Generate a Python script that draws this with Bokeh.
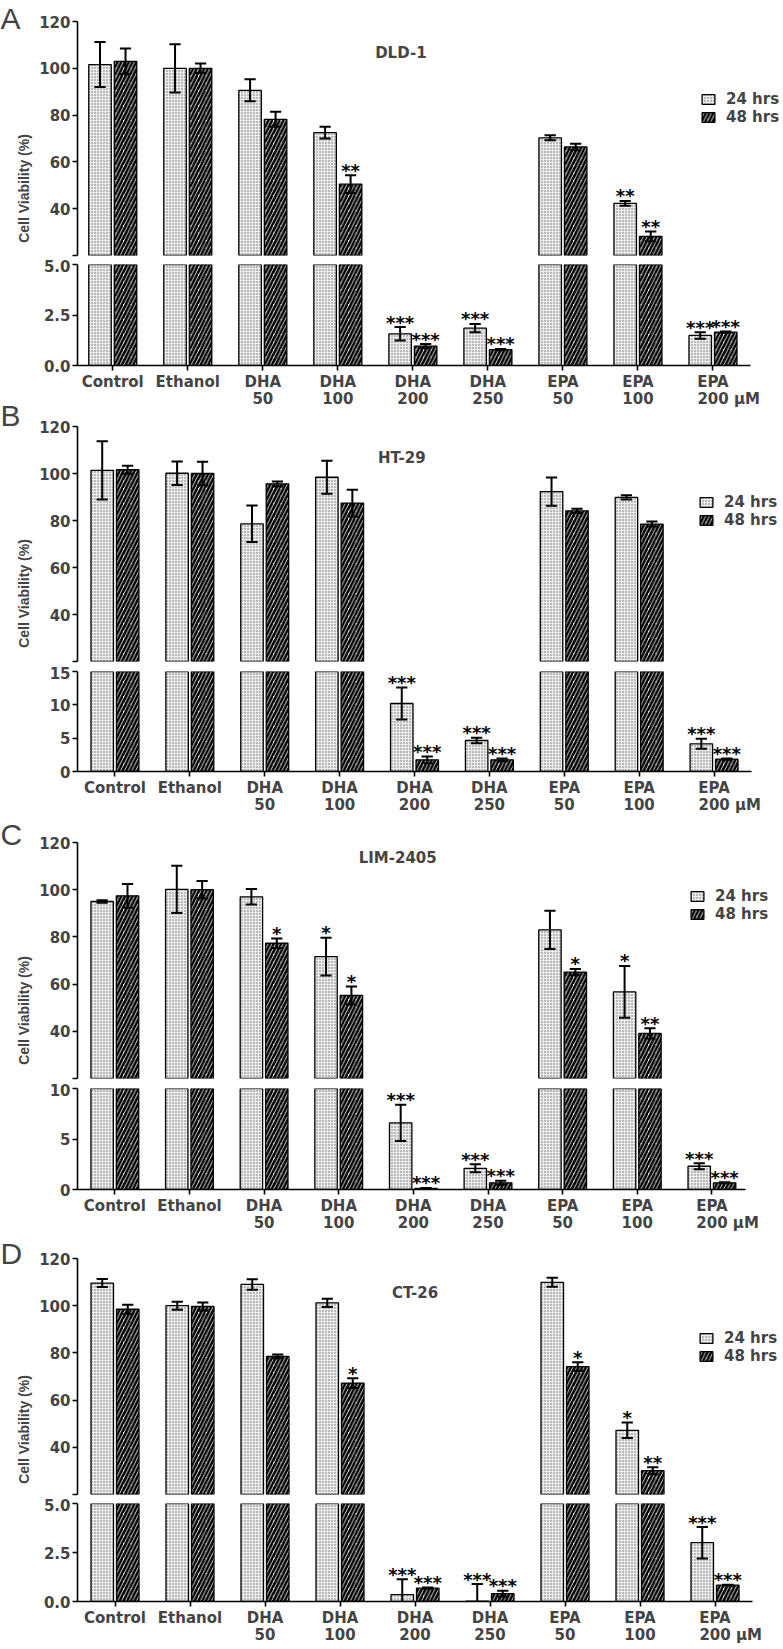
import numpy as np
from math import pi
from bokeh.plotting import figure
from bokeh.layouts import column, row
from bokeh.models import (ColumnDataSource, FixedTicker, Label, Legend, LegendItem,
                          Range1d, NumeralTickFormatter)
from bokeh.embed import file_html
from bokeh.resources import INLINE
from bokeh.core.properties import value

categories = ["Control", "Ethanol", "DHA\n50", "DHA\n100", "DHA\n200",
              "DHA\n250", "EPA\n50", "EPA\n100", "EPA\n200"]
unit = "\u03bcM"
series_names = ["24 hrs", "48 hrs"]
y_label = "Cell Viability (%)"

# Panel A: DLD-1
dld_24 = [101.6, 100.0, 90.6, 72.5, 1.57, 1.85, 70.3, 42.3, 1.49]
dld_24_err = [9.6, 10.3, 4.7, 2.5, 0.33, 0.21, 1.1, 1.0, 0.16]
dld_48 = [103.0, 100.0, 78.2, 50.5, 0.96, 0.79, 66.4, 28.2, 1.65]
dld_48_err = [5.5, 2.0, 3.2, 3.8, 0.10, 0.03, 1.4, 2.1, 0.03]
dld_24_sig = ["", "", "", "", "***", "***", "", "**", "***"]
dld_48_sig = ["", "", "", "**", "***", "***", "", "**", "***"]

# Panel B: HT-29
ht_24 = [101.3, 100.1, 78.6, 98.4, 10.2, 4.65, 92.3, 89.8, 4.15]
ht_24_err = [12.4, 5.0, 7.8, 7.0, 2.4, 0.4, 6.0, 0.9, 0.75]
ht_48 = [101.6, 100.0, 95.6, 87.4, 1.75, 1.75, 84.1, 78.5, 1.85]
ht_48_err = [1.7, 5.0, 1.0, 5.7, 0.5, 0.2, 0.9, 1.1, 0.1]
ht_24_sig = ["", "", "", "", "***", "***", "", "", "***"]
ht_48_sig = ["", "", "", "", "***", "***", "", "", "***"]

# Panel C: LIM-2405
lim_24 = [95.0, 100.1, 97.0, 71.6, 6.6, 2.1, 83.0, 56.7, 2.3]
lim_24_err = [0.5, 10.0, 3.3, 8.0, 1.8, 0.4, 8.1, 11.0, 0.3]
lim_48 = [97.4, 100.0, 77.3, 55.2, 0.1, 0.66, 65.1, 39.1, 0.66]
lim_48_err = [5.0, 3.7, 2.0, 3.8, 0.05, 0.2, 1.3, 2.2, 0.05]
lim_24_sig = ["", "", "", "*", "***", "***", "", "*", "***"]
lim_48_sig = ["", "", "*", "*", "***", "***", "*", "**", "***"]

# Panel D: CT-26
ct_24 = [109.6, 100.0, 109.0, 101.2, 0.35, 0.02, 109.9, 47.2, 3.0]
ct_24_err = [1.7, 1.7, 2.2, 1.7, 0.78, 0.87, 1.9, 3.3, 0.8]
ct_48 = [98.5, 99.7, 78.5, 67.2, 0.68, 0.4, 74.2, 30.1, 0.84]
ct_48_err = [1.9, 1.7, 0.8, 2.1, 0.03, 0.15, 1.8, 1.4, 0.02]
ct_24_sig = ["", "", "", "", "***", "***", "", "*", "***"]
ct_48_sig = ["", "", "", "*", "***", "***", "*", "**", "***"]

upper_ticks = [20, 40, 60, 80, 100, 120]
UP_MIN, UP_MAX = 20, 120

FONT = "DejaVu Sans"
PAGE_W = 783
SIDE_W = 33
MAIN_W = PAGE_W - SIDE_W
BAR_W = 0.30
OFF = 0.17
CAP = 0.075


def sources(vals, errs, sig, shift, keep_bar, keep_mark):
    x = np.arange(len(vals)) + shift
    v = np.array(vals, dtype=float)
    e = np.array(errs, dtype=float)
    hi = v + e
    kb = np.array([keep_bar(a) for a in v])
    km = np.array([keep_mark(a) for a in hi])
    bars = ColumnDataSource(dict(x=x[kb], top=v[kb]))
    marks = ColumnDataSource(dict(x=x[km], lo=(v - e)[km], hi=hi[km],
                                  xl=(x - CAP)[km], xr=(x + CAP)[km],
                                  sig=[s for s, k in zip(sig, km) if k]))
    return bars, marks


def style_axis(ax):
    ax.axis_line_width = 1.6
    ax.major_tick_line_width = 1.6
    ax.major_tick_out = 5
    ax.major_tick_in = 0
    ax.minor_tick_line_color = None
    ax.major_label_text_font = FONT
    ax.major_label_text_font_style = "bold"
    ax.major_label_text_font_size = "15px"
    ax.major_label_standoff = 2


def draw(f, v24, e24, g24, v48, e48, g48, keep_bar, keep_mark):
    b24, m24 = sources(v24, e24, g24, -OFF, keep_bar, keep_mark)
    b48, m48 = sources(v48, e48, g48, OFF, keep_bar, keep_mark)
    r24 = f.vbar(x="x", top="top", bottom=0, width=BAR_W, source=b24,
                 fill_color="#ececec", line_color="black", line_width=1.3,
                 hatch_pattern="dot", hatch_color="#6a6a6a", hatch_scale=3,
                 hatch_weight=1)
    r48 = f.vbar(x="x", top="top", bottom=0, width=BAR_W, source=b48,
                 fill_color="white", line_color="black", line_width=1.3,
                 hatch_pattern="right_diagonal_line", hatch_color="black",
                 hatch_scale=7.5, hatch_weight=2.6)
    for s in (m24, m48):
        f.segment(x0="x", y0="lo", x1="x", y1="hi", source=s, line_color="black", line_width=2)
        f.segment(x0="xl", y0="hi", x1="xr", y1="hi", source=s, line_color="black", line_width=2)
        f.segment(x0="xl", y0="lo", x1="xr", y1="lo", source=s, line_color="black", line_width=2)
        f.text(x="x", y="hi", text="sig", source=s, text_font=value(FONT),
               text_font_style="bold", text_font_size="18px", text_align="center",
               text_baseline="middle", y_offset=-5)
    return r24, r48


def panel(name, v24, e24, v48, e48, g24, g48, geo):
    x0, x1 = geo["xr"]
    ppu = geo["fw"] / (x1 - x0)
    left = geo["left"] - SIDE_W
    up_fw = PAGE_W - geo["left"]
    up_xr = Range1d(x0, x0 + up_fw / ppu)
    lo_xr = Range1d(x0, x1)

    up = figure(frame_width=up_fw, frame_height=geo["uh"], x_range=up_xr,
                y_range=Range1d(UP_MIN, UP_MAX), x_axis_location=None,
                output_backend="svg", toolbar_location=None,
                min_border_left=left, min_border_right=0,
                min_border_top=geo["ut"], min_border_bottom=geo["ub"])
    lo = figure(frame_width=geo["fw"], frame_height=geo["lh"], x_range=lo_xr,
                y_range=Range1d(0, geo["lmax"]),
                output_backend="svg", toolbar_location=None,
                min_border_left=left, min_border_right=MAIN_W - left - geo["fw"],
                min_border_top=geo["lt"], min_border_bottom=geo["lb"])
    for f in (up, lo):
        f.grid.visible = False
        f.outline_line_color = None
        f.background_fill_color = "white"
        style_axis(f.yaxis[0])

    up.yaxis[0].ticker = FixedTicker(ticks=upper_ticks)
    up.yaxis[0].major_label_overrides = {UP_MIN: ""}
    lo.yaxis[0].ticker = FixedTicker(ticks=geo["lticks"])
    lo.yaxis[0].formatter = NumeralTickFormatter(format=geo["lfmt"])

    xa = lo.xaxis[0]
    style_axis(xa)
    xa.major_label_text_line_height = 0.97
    xa.ticker = FixedTicker(ticks=list(range(len(categories))))
    labels = {i: c for i, c in enumerate(categories)}
    first, second = categories[-1].split("\n")
    pad = "\u2007" * 3
    labels[len(categories) - 1] = first + "\n" + pad + second + " " + unit
    xa.major_label_overrides = labels

    lmax = geo["lmax"]
    r24, r48 = draw(up, v24, e24, g24, v48, e48, g48,
                    lambda t: t > UP_MIN, lambda h: h > UP_MIN)
    draw(lo, v24, e24, g24, v48, e48, g48,
         lambda t: True, lambda h: h <= lmax)

    legend = Legend(items=[LegendItem(label=value(series_names[0]), renderers=[r24]),
                           LegendItem(label=value(series_names[1]), renderers=[r48])],
                    location=geo["leg"], glyph_width=16, glyph_height=12,
                    label_height=13, spacing=0, padding=0, margin=0,
                    label_standoff=10, border_line_color=None,
                    background_fill_alpha=0,
                    label_text_font=FONT, label_text_font_style="bold",
                    label_text_font_size="15px")
    up.add_layout(legend)

    up.add_layout(Label(x=geo["title"][0], y=geo["title"][1], text=name,
                        text_font=FONT, text_font_style="bold",
                        text_font_size="15px", text_align="center",
                        text_baseline="middle"))
    return [up, lo]


geoA = dict(left=77, fw=673, xr=(-0.47, 8.5), ut=21, uh=234, ub=4, lt=5, lh=101,
            lb=48, lmax=5, lticks=[0, 2.5, 5], lfmt="0.0", leg=(623, 129),
            title=(3.84, 106.7))
geoB = dict(left=74, fw=674, xr=(-0.5, 8.5), ut=13, uh=235, ub=5, lt=5, lh=100,
            lb=48, lmax=15, lticks=[0, 5, 10, 15], lfmt="0", leg=(624, 132),
            title=(3.83, 106.8))
geoC = dict(left=72, fw=668, xr=(-0.5, 8.45), ut=23, uh=236, ub=5, lt=5, lh=101,
            lb=48, lmax=10, lticks=[0, 5, 10], lfmt="0", leg=(615, 155),
            title=(3.79, 113.6))
geoD = dict(left=72, fw=675, xr=(-0.5, 8.5), ut=21, uh=236, ub=4, lt=5, lh=98,
            lb=48, lmax=5, lticks=[0, 2.5, 5], lfmt="0.0", leg=(624, 129),
            title=(4.0, 105.2))

figs = []
figs += panel("DLD-1", dld_24, dld_24_err, dld_48, dld_48_err, dld_24_sig, dld_48_sig, geoA)
figs += panel("HT-29", ht_24, ht_24_err, ht_48, ht_48_err, ht_24_sig, ht_48_sig, geoB)
figs += panel("LIM-2405", lim_24, lim_24_err, lim_48, lim_48_err, lim_24_sig, lim_48_sig, geoC)
figs += panel("CT-26", ct_24, ct_24_err, ct_48, ct_48_err, ct_24_sig, ct_48_sig, geoD)

# side strip with panel letters and the y-axis titles (page pixel coordinates)
SIDE_H = 1646
side = figure(width=SIDE_W, height=SIDE_H, x_range=Range1d(0, SIDE_W),
              y_range=Range1d(SIDE_H, 0), x_axis_location=None, y_axis_location=None,
              output_backend="svg", toolbar_location=None, min_border=0)
side.grid.visible = False
side.outline_line_color = None
letters = ["A", "B", "C", "D"]
letter_top = [1, 398, 817, 1236]
ylabel_y = [188, 593, 1010, 1429]
for L, ly, yy in zip(letters, letter_top, ylabel_y):
    side.add_layout(Label(x=0, y=ly, text=L, text_font="Liberation Sans",
                          text_font_size="30px", text_align="left",
                          text_baseline="top"))
    side.add_layout(Label(x=23, y=yy, text=y_label, angle=pi / 2,
                          text_font="Liberation Sans", text_font_style="bold",
                          text_font_size="14px", text_align="center",
                          text_baseline="middle"))

p = row(side, column(*figs, spacing=0), spacing=0)
open("out.html", "w").write(file_html(p, INLINE))
